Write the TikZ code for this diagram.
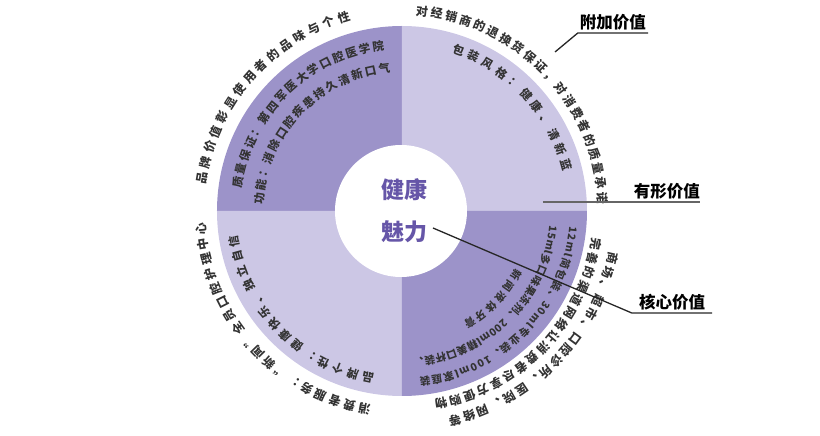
\documentclass[tikz,border=0pt]{standalone}
\usepackage{fontspec}
\setmainfont{Noto Sans CJK SC}
\usepackage{xcolor}
\usetikzlibrary{decorations.text}

\definecolor{quaddark}{HTML}{9C93C9}
\definecolor{quadlight}{HTML}{CCC7E5}
\definecolor{heartc}{HTML}{6656A8}
\definecolor{arcc}{HTML}{333333}

\newcommand\outerfont{\bfseries\fontsize{12}{12}\selectfont}
\newcommand\innerfont{\bfseries\fontsize{11.5}{11.5}\selectfont}
\newcommand\smallfont{\bfseries\fontsize{10.5}{10.5}\selectfont}

\begin{document}
\begin{tikzpicture}[x=1pt, y=1pt,
    darkq/.style={fill=quaddark},
    lightq/.style={fill=quadlight},
    outertext/.style={decorate, decoration={text along path, text align=fit to path,
                      text color=arcc, text={|\outerfont|#1}}},
    innertext/.style={decorate, decoration={text along path, text align=fit to path,
                      text color=arcc, text={|\innerfont|#1}}},
    smalltext/.style={decorate, decoration={text along path, text align=fit to path,
                      text color=arcc, text={|\smallfont|#1}}},
    lbl/.style={font=\bfseries\fontsize{16.5}{16.5}\selectfont, inner xsep=0pt, inner ysep=3pt},
    lead/.style={line width=1.3pt, draw=black!85}
]
\useasboundingbox (-402,-225) rectangle (418,211);

% quadrants
\fill[darkq]  (0,0) -- (90:185)  arc[start angle=90,  end angle=180, radius=185] -- cycle;
\fill[lightq] (0,0) -- (0:185)   arc[start angle=0,   end angle=90,  radius=185] -- cycle;
\fill[lightq] (0,0) -- (180:185) arc[start angle=180, end angle=270, radius=185] -- cycle;
\fill[darkq]  (0,0) -- (270:185) arc[start angle=270, end angle=360, radius=185] -- cycle;
\fill[white] (-1,0) circle[radius=66];

\node[font=\bfseries\fontsize{23}{42}\selectfont, text=heartc, align=center] (heart) at (3,0) {健康\\魅力};

% top left
\path[outertext={品牌价值彰显使用者的品味与个性}] (172.4:198) arc[start angle=172.4, end angle=105, radius=198];
\path[innertext={质量保证：第四军医大学口腔医学院}] (172:162) arc[start angle=172, end angle=96.2, radius=162];
\path[innertext={功能：消除口腔疾患持久清新口气}] (177.4:139) arc[start angle=177.4, end angle=94.8, radius=139];

% top right
\path[outertext={对经销商的退换货保证，对消费者的质量承诺}] (86:196) arc[start angle=86, end angle=2, radius=196];
\path[innertext={包装风格：健康、清新蓝}] (72.6:166) arc[start angle=72.6, end angle=13.8, radius=166];

% bottom left
\path[outertext={消费者服务：“新闻”全员口腔护理中心}] (261:197) arc[start angle=261, end angle=183.4, radius=197];
\path[innertext={品牌个性：健康快乐、独立自信}] (260.4:166) arc[start angle=260.4, end angle=188.3, radius=166];

% bottom right
\path[smalltext={12ml简包装、30ml专业装、100ml家庭装}] (354.8:168) arc[start angle=354.8, end angle=276, radius=168];
\path[smalltext={15ml多口味果冻剂、200ml精美口杯装、}] (354.3:148) arc[start angle=354.3, end angle=274.3, radius=148];
\path[smalltext={新闻液体牙膏}] (333.1:127) arc[start angle=333.1, end angle=298.9, radius=127];
\path[outertext={商场、超市、口腔诊所、医院、网络等}] (348.9:211) arc[start angle=348.9, end angle=282.6, radius=211];
\path[outertext={完善的渠道网络让消费者尽享方便购物}] (352.1:192) arc[start angle=352.1, end angle=279.7, radius=192];

% labels
\coordinate (addtip) at (153,159);
\coordinate (tangtip) at (141,9);
\coordinate (coretip) at (31,-17);
\node[lbl, anchor=south, minimum width=70] (addlbl) at (211,178) {附加价值};
\node[lbl, anchor=south east] (tanglbl) at (298,9) {有形价值};
\node[lbl, anchor=south, minimum width=80] (corelbl) at (270,-102) {核心价值};

\draw[lead] (addtip) -- (addlbl.south west) -- (addlbl.south east);
\draw[lead, draw=black!60, line width=1.1pt] (tangtip) -- (tanglbl.south east);
\draw[lead] (coretip) -- (corelbl.south west) -- (corelbl.south east);
\end{tikzpicture}
\end{document}
